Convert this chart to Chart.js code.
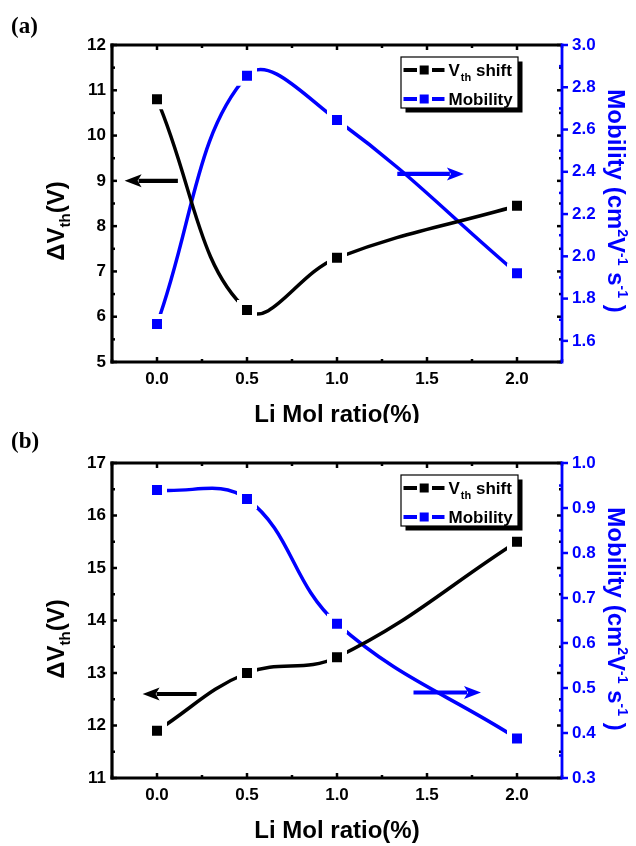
<!DOCTYPE html>
<html><head><meta charset="utf-8">
<script src="https://cdn.jsdelivr.net/npm/chart.js@4.4.1/dist/chart.umd.min.js"></script>
<style>
html,body{margin:0;padding:0;background:#fff;}
#wrap{position:relative;width:636px;height:846px;background:#fff;}
canvas{position:absolute;left:0;}
</style></head><body>
<div id="wrap">
<canvas id="ca" width="636" height="423" style="top:0px"></canvas>
<canvas id="cb" width="636" height="423" style="top:423px"></canvas>
</div>
<script>
// ---- data ----
const liMolRatio = [0.0, 0.5, 1.0, 2.0];
const vthShiftA = [10.8, 6.15, 7.3, 8.45];
const mobilityA = [1.68, 2.855, 2.645, 1.92];
const vthShiftB = [11.9, 13.0, 13.3, 15.5];
const mobilityB = [0.94, 0.92, 0.643, 0.388];
const xTickValues = [0.0, 0.5, 1.0, 1.5, 2.0];
const leftTicksA = [5, 6, 7, 8, 9, 10, 11, 12];
const rightTicksA = [1.6, 1.8, 2.0, 2.2, 2.4, 2.6, 2.8, 3.0];
const leftTicksB = [11, 12, 13, 14, 15, 16, 17];
const rightTicksB = [0.3, 0.4, 0.5, 0.6, 0.7, 0.8, 0.9, 1.0];
const seriesNames = ['V', 'Mobility'];

const FONT = '"Liberation Sans", Arial, Helvetica, sans-serif';
const SERIF = '"Liberation Serif", "Times New Roman", serif';
const BLUE = '#0000ff';
const BLACK = '#000000';

function drawRich(ctx, segs, cx, cy, rot, color, mainSize) {
  ctx.save();
  ctx.translate(cx, cy);
  ctx.rotate(rot);
  ctx.fillStyle = color;
  ctx.textBaseline = 'alphabetic';
  ctx.textAlign = 'left';
  let total = 0;
  for (const s of segs) { ctx.font = 'bold ' + s.size + 'px ' + FONT; s.w = ctx.measureText(s.t).width; total += s.w; }
  let x = -total / 2;
  const base = mainSize * 0.36;
  for (const s of segs) { ctx.font = 'bold ' + s.size + 'px ' + FONT; ctx.fillText(s.t, x, base + (s.dy || 0)); x += s.w; }
  ctx.restore();
}

function drawArrow(ctx, x1, x2, y, color) {
  const dir = Math.sign(x2 - x1), hl = 17, hw = 6.5;
  ctx.save();
  ctx.fillStyle = color; ctx.strokeStyle = color; ctx.lineWidth = 4.2; ctx.lineCap = 'butt';
  ctx.beginPath(); ctx.moveTo(x1, y); ctx.lineTo(x2 - dir * (hl - 3), y); ctx.stroke();
  ctx.beginPath(); ctx.moveTo(x2, y); ctx.lineTo(x2 - dir * hl, y - hw); ctx.lineTo(x2 - dir * (hl - 4), y); ctx.lineTo(x2 - dir * hl, y + hw); ctx.closePath(); ctx.fill();
  ctx.restore();
}

function seg(ctx, x1, y1, x2, y2) { ctx.beginPath(); ctx.moveTo(x1, y1); ctx.lineTo(x2, y2); ctx.stroke(); }

function makeChart(id, cfg) {
  const deco = {
    id: 'deco_' + id,
    afterDraw(chart) {
      const ctx = chart.ctx;
      const {left, right, top, bottom} = chart.chartArea;
      const sx = chart.scales.x, yl = chart.scales.y, yr = chart.scales.y2;
      ctx.save();
      ctx.lineCap = 'butt';
      // left axis ticks (inward) + mirrored on right inside
      ctx.strokeStyle = BLACK; ctx.lineWidth = 2.5;
      let n = Math.round((yl.max - yl.min) / cfg.leftMinor);
      for (let i = 0; i <= n; i++) {
        const v = yl.min + i * cfg.leftMinor;
        const p = yl.getPixelForValue(v);
        const L = (i % 2 === 0) ? 5 : 3;
        seg(ctx, left, p, left + L, p);
        seg(ctx, right, p, right - L, p);
      }
      // bottom ticks inward + top mirrored
      n = Math.round((sx.max - sx.min) / 0.25);
      for (let i = 0; i <= n; i++) {
        const v = sx.min + i * 0.25;
        const p = sx.getPixelForValue(v);
        const major = Math.abs(v / 0.5 - Math.round(v / 0.5)) < 1e-6;
        const L = major ? 5 : 3;
        seg(ctx, p, bottom, p, bottom - L);
        seg(ctx, p, top, p, top + L);
      }
      // right blue ticks
      ctx.strokeStyle = BLUE;
      n = Math.round((yr.max - yr.min) / cfg.rightMinor);
      for (let i = 0; i <= n; i++) {
        const v = yr.min + i * cfg.rightMinor;
        const p = yr.getPixelForValue(v);
        const major = Math.abs(v / cfg.rightMajor - Math.round(v / cfg.rightMajor)) < 1e-6;
        if (major) seg(ctx, right, p, right + 6, p); else seg(ctx, right, p, right - 3, p);
      }
      // frame
      ctx.lineWidth = 3.2; ctx.strokeStyle = BLACK;
      seg(ctx, left - 1.5, top, right, top);
      seg(ctx, left, top - 1.5, left, bottom + 1.5);
      seg(ctx, left - 1.5, bottom, right, bottom);
      ctx.strokeStyle = BLUE; ctx.lineWidth = 2.8;
      seg(ctx, right, top - 1.5, right, bottom + 1.5);

      // arrows (positioned in data coordinates)
      const ya = yl.getPixelForValue(cfg.leftArrow.y);
      drawArrow(ctx, sx.getPixelForValue(cfg.leftArrow.x1), sx.getPixelForValue(cfg.leftArrow.x2), ya, BLACK);
      const yb = yr.getPixelForValue(cfg.rightArrow.y);
      drawArrow(ctx, sx.getPixelForValue(cfg.rightArrow.x1), sx.getPixelForValue(cfg.rightArrow.x2), yb, BLUE);

      // legend
      const bw = 117, bh = 51;
      const bx = right - 161, by = top + 12;
      ctx.fillStyle = BLACK; ctx.fillRect(bx + 4.5, by + 4.5, bw, bh);
      ctx.fillStyle = '#fff'; ctx.fillRect(bx, by, bw, bh);
      ctx.lineWidth = 1.2; ctx.strokeStyle = BLACK; ctx.strokeRect(bx, by, bw, bh);
      const rows = [{c: BLACK, y: by + 13}, {c: BLUE, y: by + 42}];
      rows.forEach((r, i) => {
        ctx.strokeStyle = r.c; ctx.fillStyle = r.c; ctx.lineWidth = 4;
        seg(ctx, bx + 2.5, r.y, bx + 16, r.y);
        seg(ctx, bx + 31, r.y, bx + 43.5, r.y);
        ctx.fillRect(bx + 18.7, r.y - 4.5, 9, 9);
      });
      ctx.fillStyle = BLACK; ctx.textBaseline = 'alphabetic'; ctx.textAlign = 'left';
      let tx = bx + 47.5;
      ctx.font = 'bold 17px ' + FONT; ctx.fillText(seriesNames[0], tx, rows[0].y + 6);
      tx += ctx.measureText(seriesNames[0]).width;
      ctx.font = 'bold 11px ' + FONT; ctx.fillText('th', tx + 1, rows[0].y + 11);
      tx += ctx.measureText('th').width + 1;
      ctx.font = 'bold 17px ' + FONT; ctx.fillText(' shift', tx, rows[0].y + 6);
      ctx.fillText(seriesNames[1], bx + 47.5, rows[1].y + 6);

      // axis titles
      drawRich(ctx, [
        {t: '\u0394V', size: 24},
        {t: 'th', size: 15, dy: 6},
        {t: '(V)', size: 24}
      ], 55, top + 176, -Math.PI / 2, BLACK, 24);
      drawRich(ctx, [
        {t: 'Mobility (cm', size: 24},
        {t: '2', size: 14, dy: -10},
        {t: 'V', size: 24},
        {t: '-1', size: 14, dy: -10},
        {t: ' s', size: 24},
        {t: '-1', size: 14, dy: -10},
        {t: ' )', size: 24}
      ], 617, top + 156, Math.PI / 2, BLUE, 24);
      ctx.fillStyle = BLACK; ctx.textAlign = 'center'; ctx.textBaseline = 'alphabetic';
      ctx.font = 'bold 24px ' + FONT;
      ctx.fillText('Li Mol ratio(%)', (left + right) / 2, bottom + 60);
      // panel label
      ctx.textAlign = 'left';
      ctx.font = 'bold 23px ' + SERIF;
      ctx.fillText(cfg.panel, 11, cfg.panelY);
      ctx.restore();
    }
  };

  const tickFont = {family: FONT, size: 17, weight: 'bold'};
  return new Chart(document.getElementById(id), {
    type: 'line',
    data: {
      datasets: [
        {
          label: 'Vth shift',
          data: liMolRatio.map((x, i) => ({x: x, y: cfg.vth[i]})),
          yAxisID: 'y',
          borderColor: BLACK, backgroundColor: BLACK, borderWidth: 3.5,
          tension: cfg.tVth, fill: false,
          pointStyle: 'rect', pointRadius: 10.6, pointBorderWidth: 5,
          pointBorderColor: '#ffffff', pointBackgroundColor: BLACK
        },
        {
          label: 'Mobility',
          data: liMolRatio.map((x, i) => ({x: x, y: cfg.mob[i]})),
          yAxisID: 'y2',
          borderColor: BLUE, backgroundColor: BLUE, borderWidth: 3.5,
          tension: cfg.tMob, fill: false,
          pointStyle: 'rect', pointRadius: 10.6, pointBorderWidth: 5,
          pointBorderColor: '#ffffff', pointBackgroundColor: BLUE
        }
      ]
    },
    options: {
      responsive: false, animation: false, events: [], devicePixelRatio: 1,
      layout: {padding: {top: cfg.padTop, left: 0, right: 0, bottom: 0}},
      plugins: {legend: {display: false}, tooltip: {enabled: false}, title: {display: false}},
      scales: {
        x: {
          type: 'linear', min: -0.25, max: 2.25,
          afterBuildTicks: s => { s.ticks = xTickValues.map(v => ({value: v})); },
          afterFit: s => { s.height = cfg.xH; },
          grid: {display: false, drawTicks: false}, border: {display: false},
          ticks: {font: tickFont, color: BLACK, padding: 7, maxRotation: 0, autoSkip: false,
                  callback: v => Number(v).toFixed(1)}
        },
        y: {
          type: 'linear', position: 'left', min: cfg.yMin, max: cfg.yMax,
          afterBuildTicks: s => { s.ticks = cfg.leftTicks.map(v => ({value: v})); },
          afterFit: s => { s.width = 112; },
          grid: {display: false, drawTicks: false}, border: {display: false},
          ticks: {font: tickFont, color: BLACK, padding: 6, callback: v => String(v)}
        },
        y2: {
          type: 'linear', position: 'right', min: cfg.y2Min, max: cfg.y2Max,
          afterBuildTicks: s => { s.ticks = cfg.rightTicks.map(v => ({value: v})); },
          afterFit: s => { s.width = 74; },
          grid: {display: false, drawTicks: false}, border: {display: false},
          ticks: {font: tickFont, color: BLUE, padding: 10, callback: v => Number(v).toFixed(1)}
        }
      }
    },
    plugins: [deco]
  });
}

makeChart('ca', {
  vth: vthShiftA, mob: mobilityA, tVth: 0.4, tMob: 0.4,
  yMin: 5, yMax: 12, y2Min: 1.5, y2Max: 3.0,
  leftTicks: leftTicksA, rightTicks: rightTicksA,
  leftMinor: 0.5, rightMinor: 0.1, rightMajor: 0.2,
  padTop: 45, xH: 61, panel: '(a)', panelY: 33,
  leftArrow: {y: 9, x1: 0.116, x2: -0.18},
  rightArrow: {y: 2.39, x1: 1.335, x2: 1.705}
});
makeChart('cb', {
  vth: vthShiftB, mob: mobilityB, tVth: 0.4, tMob: 0.4,
  yMin: 11, yMax: 17, y2Min: 0.3, y2Max: 1.0,
  leftTicks: leftTicksB, rightTicks: rightTicksB,
  leftMinor: 0.5, rightMinor: 0.05, rightMajor: 0.1,
  padTop: 40, xH: 68, panel: '(b)', panelY: 24.5,
  leftArrow: {y: 12.6, x1: 0.22, x2: -0.08},
  rightArrow: {y: 0.49, x1: 1.425, x2: 1.8}
});
</script>
</body></html>
